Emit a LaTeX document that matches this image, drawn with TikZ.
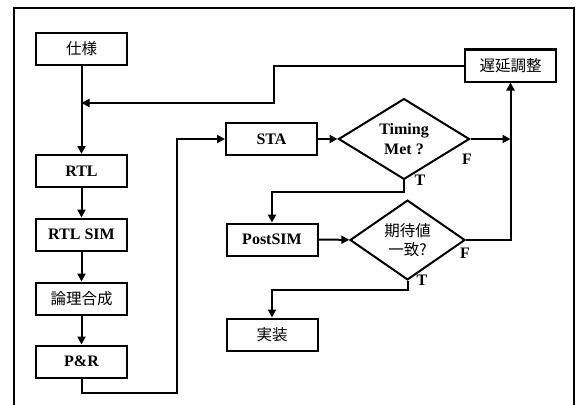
\documentclass[tikz,border=0pt]{standalone}
\usepackage{fontspec}
\setmainfont{Liberation Serif}
\newfontfamily\jpfont{Noto Sans CJK JP}
\usetikzlibrary{shapes.geometric,arrows.meta}

\begin{document}
\begin{tikzpicture}[x=1pt, y=-1pt, line width=2pt,
	every node/.style={font=\bfseries\fontsize{16}{20}\selectfont},
	box/.style={draw=black, rectangle, minimum width=91pt, minimum height=32pt, inner sep=2pt},
	decision/.style={draw=black, diamond, inner sep=0pt, align=center},
	jp/.style={font=\jpfont\fontsize{15.5}{19}\selectfont},
	flow/.style={-{Triangle[length=8pt,width=8pt]}},
	lbl/.style={inner sep=0pt}]
	\useasboundingbox (0,0) rectangle (577,404);
	\draw (14,410) -- (14,8) -- (574,8) -- (574,410);
	% left column
	\node[box, jp] (spec) at (81.5,49) {仕様};
	\node[box] (rtl) at (81.5,171) {RTL};
	\node[box] (rtlsim) at (81.5,234.5) {RTL SIM};
	\node[box, jp] (synth) at (81.5,298.5) {論理合成};
	\node[box] (pnr) at (81.5,361.5) {P\&R};
	% right part
	\node[box] (sta) at (271.5,139) {STA};
	\node[decision, minimum width=131pt, minimum height=74pt] (timing) at (404,139) {Timing\\Met ?};
	\node[box, jp] (delay) at (510.5,65.5) {遅延調整};
	\node[box] (postsim) at (272,239.5) {PostSIM};
	\node[decision, jp, minimum width=115pt, minimum height=74pt] (match) at (407.5,240) {期待値\\一致?};
	\node[box, jp] (impl) at (272,334.5) {実装};
	% labels
	\node[lbl] (timingF) at (467,159) {F};
	\node[lbl] (timingT) at (420,180) {T};
	\node[lbl] (matchF) at (465,253) {F};
	\node[lbl] (matchT) at (422,280) {T};
	% junctions
	\coordinate (fbtop) at (274,65.5);
	\coordinate (fbend) at (81.5,103);
	\coordinate (loopB) at (177,393);
	\coordinate (join) at (510.5,139);
	\coordinate (joinlow) at (510.5,240);
	\coordinate (tdrop) at (404,192);
	\coordinate (mdrop) at (407.5,290);
	% connectors
	\draw[flow] (spec) -- (rtl);
	\draw[flow] (rtl) -- (rtlsim);
	\draw[flow] (rtlsim) -- (synth);
	\draw[flow] (synth) -- (pnr);
	\draw[flow] (delay.west) -- (fbtop) |- (fbend);
	\draw[flow] (pnr.south) |- (loopB) |- (sta.west);
	\draw[flow] (sta) -- (timing);
	\draw[flow] (timing.east) -- (join);
	\draw[flow] (match.east) -- (joinlow) -- (delay.south);
	\draw[flow] (timing.south) -- (tdrop) -| (postsim.north);
	\draw[flow] (postsim) -- (match);
	\draw[flow] (match.south) -- (mdrop) -| (impl.north);
\end{tikzpicture}
\end{document}
